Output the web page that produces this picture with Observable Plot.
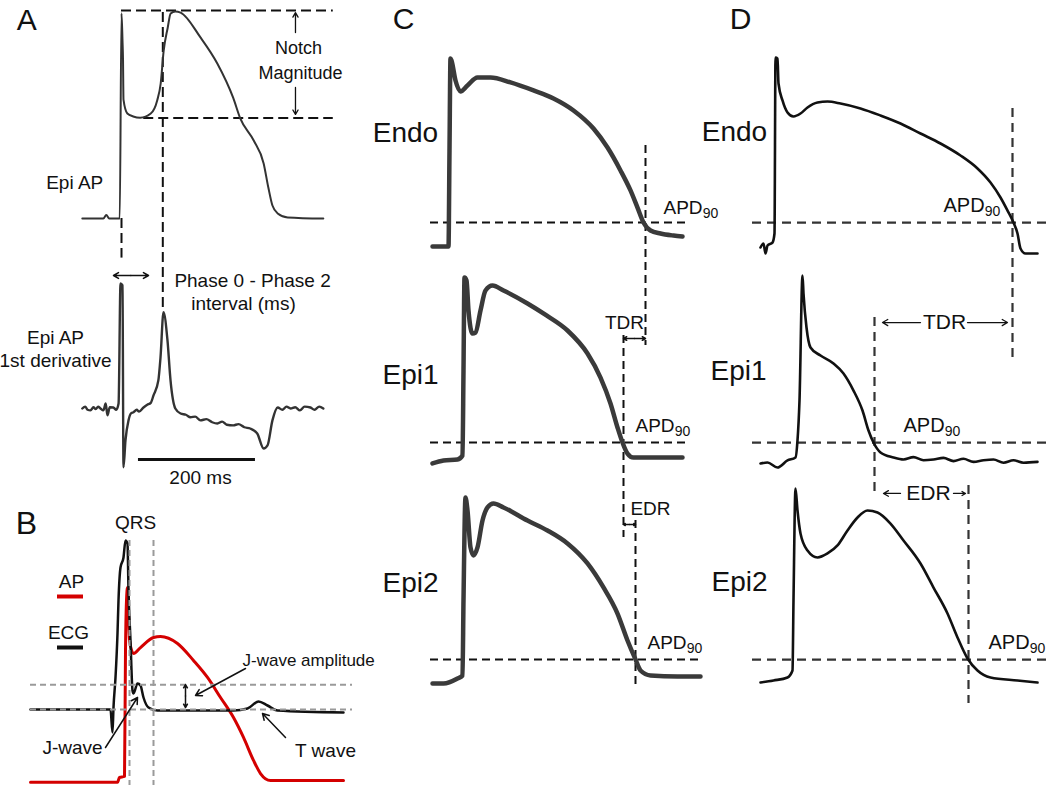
<!DOCTYPE html>
<html>
<head>
<meta charset="utf-8">
<script src="https://cdn.jsdelivr.net/npm/d3@7"></script>
<script src="https://cdn.jsdelivr.net/npm/@observablehq/plot@0.6"></script>
<style>
  html, body { margin: 0; padding: 0; background: #fff; }
  #fig { position: relative; width: 1050px; height: 785px; background: #fff; overflow: hidden; }
</style>
</head>
<body>
<div id="fig"></div>
<script>
// ---------------- DATA (time in ms, potential in mV, dV/dt in V/s, ECG in mV) ----------------
// Panel A: epicardial action potential and its first derivative
const epiAP_A = [[-67,-85],[-31,-85],[-26,-83],[-21,-85],[-3,-85],[0,29],[1.7,14],[2.6,3],[3.4,-19],[10,-26.7],[20,-28.3],[32,-29],[50,-26.7],[61,-19.4],[67,-10],[72,8],[79,21],[84,28.9],[92,30],[101,29.4],[135,15.6],[164,1],[191,-18],[203,-29.4],[226,-41.7],[243,-54.4],[251,-67.8],[258,-77.8],[267,-82.2],[284,-84.4],[345,-85]];
const dVdt_A = [[-67,0],[-62,3],[-58,-2],[-53,-3],[-48,2],[-44,-1],[-40,3],[-36,0],[-31,-3],[-27,8],[-24,-11],[-20,2],[-14,1.6],[-9,-2],[-5,8],[-1.7,200],[1.7,197],[3.4,-94],[6.8,-51],[12,-19],[16,-8],[20.5,-6],[26,-2],[30,-5],[37.6,1.6],[44,6],[50,9],[54.7,21],[63,45],[66.7,82],[71.8,154],[78.6,109],[83.8,45],[92,0],[101,-8],[110,-10],[118,-14],[126,-13],[135,-19],[145,-17],[155,-22],[164,-24],[172,-21],[180,-26],[191,-27],[200,-25],[210,-30],[220,-32],[232,-40],[243,-64],[249.6,-59],[258,-19],[267,1.6],[275,-2],[282,3],[289,0],[297,2],[305,-3],[313,3],[323,1.6],[330,-2],[338,3],[345,0]];
// Panel B: AP (red) and ECG (black)
const ap_B = [[-188,-85.5],[-14,-85.5],[-10,-82.6],[0,-82],[2,-7.9],[4,21.5],[6,29.1],[10,-2],[18,-9.7],[32,-6.2],[58,-0.3],[72,0.3],[106,-3.8],[138,-13.8],[166,-23.8],[192,-35.6],[218,-47.4],[238,-59.1],[258,-72.6],[272,-80.3],[292,-84.4],[438,-84.4]];
const ecg_B = [[-188,0],[-28,0],[-24,-0.23],[-22,0.02],[-18,0.32],[-14,0.76],[-12,1.09],[-8,1.42],[-2,1.52],[2,1.69],[6,1.66],[8,1.19],[12,0.69],[16,0.19],[18,0.16],[26,0.26],[32,0.24],[38,0.12],[48,0.02],[66,-0.01],[152,-0.01],[218,-0.01],[246,0.01],[268,0.08],[286,0.04],[306,-0.01],[438,-0.03]];
// Panel C: Endo / Epi1 / Epi2
const endo_C = [[-34,-85.6],[-2,-85.6],[0,-25.6],[2,31.9],[4,30.6],[12,18.1],[22,11.3],[36,15],[56,20],[82,20],[122,16.9],[168,11.9],[208,6.9],[248,-0.6],[288,-11.9],[316,-23.8],[342,-38.1],[362,-50.6],[376,-61.3],[388,-70.6],[402,-75.6],[422,-77.5],[448,-78.8],[466,-79.4]];
const epi1_C = [[-34,-85.6],[-12,-83.8],[16,-83.1],[26,-80.6],[28,-27.5],[30,30.6],[34,28.8],[38,10],[46,-4.4],[52,-3.8],[62,10],[72,22.5],[86,25.6],[108,22.5],[156,14.4],[194,6.9],[236,-2.5],[276,-16.9],[302,-31.9],[322,-48.1],[336,-63.1],[346,-72.5],[356,-79.4],[368,-81.9],[422,-81.9],[466,-81.9]];
const epi2_C = [[-34,-85.6],[-12,-85.6],[16,-82.5],[26,-80.6],[28,-33.75],[32,30.6],[36,22.5],[42,-0.6],[48,-5.6],[56,-0.6],[66,16.25],[76,24.4],[88,26.9],[108,24.4],[156,16.25],[196,10],[236,1.9],[276,-10.6],[308,-25.6],[336,-41.9],[356,-58.75],[372,-70.6],[382,-77.5],[402,-80.6],[456,-81.25],[502,-81.25]];
// Panel D: Endo / Epi1 / Epi2
const endo_D = [[-30,-85],[-24,-82.5],[-20,-88.75],[-16,-83.75],[-6,-81.9],[-2,-76.25],[0,33.75],[4,33.1],[6,17.5],[14,6.9],[24,-0.6],[36,-3.1],[50,-1.25],[64,2.5],[84,5.6],[104,6.25],[130,5],[170,1.9],[210,-2.5],[250,-7.5],[290,-13.75],[330,-20],[370,-27.5],[404,-35.6],[430,-44.4],[450,-53.75],[464,-61.9],[476,-69.4],[484,-76.25],[490,-85.6],[500,-88.75],[524,-88.75]];
const epi1_D = [[-30,-85],[-16,-84.4],[4,-87.5],[24,-83.1],[40,-81.25],[44,-70.6],[48,-45.6],[54,32.5],[56,21.25],[62,0],[70,-12.5],[90,-17.5],[116,-22.5],[136,-28.75],[156,-39.4],[174,-51.9],[186,-64.4],[196,-71.9],[210,-78.1],[236,-81.25],[256,-82.5],[276,-81],[296,-83],[316,-82.5],[336,-81.5],[356,-83.5],[376,-82],[396,-84],[416,-83],[436,-82.5],[456,-84.5],[476,-83],[496,-84.5],[524,-84]];
const epi2_D = [[-30,-86.25],[-4,-85],[24,-83.1],[34,-78.75],[36,-35],[40,35],[44,21.25],[50,6.9],[64,-3.75],[84,-8.1],[104,-5.6],[124,-0.6],[144,8.75],[164,16.9],[184,21.25],[204,20],[230,13.1],[256,2.5],[290,-11.9],[316,-26.9],[344,-43.1],[364,-58.1],[384,-71.25],[404,-78.75],[430,-83.1],[484,-85],[524,-86.25]];

// ---------------- LAYOUT / HELPERS ----------------
const W = 1050, H = 785;
const FONT = "'Liberation Sans', Arial, Helvetica, sans-serif";
const fig = document.getElementById("fig");

function layer(map, marks) {
  const {x0, kx, y0, ky} = map;
  const svg = Plot.plot({
    width: W, height: H, margin: 0,
    x: {type: "linear", domain: [-x0 / kx, (W - x0) / kx], axis: null},
    y: {type: "linear", domain: [(y0 - H) / ky, y0 / ky], axis: null},
    style: {position: "absolute", left: "0px", top: "0px", overflow: "visible", background: "transparent", fontFamily: FONT},
    marks
  });
  fig.appendChild(svg);
}
const trace = (data, o) => Plot.line(data, {x: d => d[0], y: d => d[1], curve: "monotone-x", strokeLinejoin: "round", strokeLinecap: "round", ...o});
const hrule = (v, t1, t2, o) => Plot.ruleY([v], {x1: () => t1, x2: () => t2, ...o});
const vrule = (t, v1, v2, o) => Plot.ruleX([t], {y1: () => v1, y2: () => v2, ...o});
const label = (s, t, v, o) => Plot.text([s], {x: () => t, y: () => v, text: d => d, fontFamily: FONT, fill: "#111", ...o});
const arrow = (t1, v1, t2, v2, o) => Plot.arrow([0], {x1: () => t1, y1: () => v1, x2: () => t2, y2: () => v2, stroke: "#111", strokeWidth: 1.5, headLength: 7, ...o});
const apd = (t, v, fs) => [
  label("APD", t, v, {fontSize: fs, textAnchor: "start"}),
  label("90", t, v, {fontSize: Math.round(fs * 0.72), textAnchor: "start", dx: fs * 2.06, dy: fs * 0.3})
];
const dashA = {stroke: "#111", strokeWidth: 2, strokeDasharray: "10,5"};
const dashB = {stroke: "#9a9a9a", strokeWidth: 2, strokeDasharray: "6,4"};
const dashC = {stroke: "#111", strokeWidth: 2, strokeDasharray: "8,5"};
const dashD = {stroke: "#333", strokeWidth: 2.2, strokeDasharray: "9,6"};

// ---------------- PANEL A ----------------
layer({x0: 121, kx: 0.585, y0: 65, ky: 1.8}, [
  hrule(30.5, 0, 362, dashA),
  hrule(-29.1, 38, 362, dashA),
  vrule(0, -85, -107, dashA),
  vrule(70.6, 29.4, -136, dashA),
  trace(epiAP_A, {stroke: "#333", strokeWidth: 2}),
  label("A", -162, 25.3, {fontSize: 30}),
  label("Epi AP", -80, -65, {fontSize: 19}),
  label("Notch", 302.6, 9.4, {fontSize: 18}),
  label("Magnitude", 306, -4.4, {fontSize: 18}),
  arrow(297.4, 18.3, 297.4, 29.4, {headLength: 6, strokeWidth: 1.3}),
  arrow(297.4, -12.2, 297.4, -27.2, {headLength: 6, strokeWidth: 1.3})
]);
layer({x0: 121, kx: 0.585, y0: 408, ky: 0.625}, [
  trace(dVdt_A, {stroke: "#333", strokeWidth: 2.4}),
  arrow(16, 212.8, -13.7, 212.8, {headLength: 6}),
  arrow(16, 212.8, 46.2, 212.8, {headLength: 6}),
  label("Epi AP", -112.8, 113.6, {fontSize: 19}),
  label("1st derivative", -112.8, 76.8, {fontSize: 19}),
  label("Phase 0 - Phase 2", 224, 204.8, {fontSize: 19}),
  label("interval (ms)", 208.5, 168, {fontSize: 19}),
  hrule(-81.6, 29, 229, {stroke: "#111", strokeWidth: 3}),
  label("200 ms", 135, -110.4, {fontSize: 19})
]);

// ---------------- PANEL B ----------------
layer({x0: 124, kx: 0.5, y0: 636.5, ky: 1.7}, [
  trace(ap_B, {stroke: "#d40000", strokeWidth: 3})
]);
layer({x0: 124, kx: 0.5, y0: 709, ky: 100}, [
  trace(ecg_B, {stroke: "#111", strokeWidth: 2.5}),
  vrule(10, 1.69, -0.76, dashB),
  vrule(58, 1.69, -0.76, dashB),
  hrule(0.247, -188, 456, dashB),
  hrule(0, -188, 456, dashB),
  label("B", -196, 1.86, {fontSize: 32}),
  label("QRS", 22, 1.87, {fontSize: 19}),
  label("AP", -106, 1.28, {fontSize: 19}),
  hrule(1.13, -134, -82, {stroke: "#d40000", strokeWidth: 4}),
  label("ECG", -112, 0.77, {fontSize: 19}),
  hrule(0.62, -134, -82, {stroke: "#111", strokeWidth: 4}),
  label("J-wave amplitude", 236, 0.49, {fontSize: 17, textAnchor: "start"}),
  arrow(242, 0.41, 142, 0.14),
  label("J-wave", -104, -0.38, {fontSize: 19}),
  arrow(-38, -0.38, 26, 0.12),
  label("T wave", 402, -0.41, {fontSize: 19}),
  arrow(322, -0.28, 276, -0.04),
  arrow(122, 0.135, 122, 0.25, {headLength: 5}),
  arrow(122, 0.135, 122, 0.02, {headLength: 5})
]);

// ---------------- PANEL C ----------------
const strokeC = {stroke: "#3a3a3a", strokeWidth: 4.5};
layer({x0: 449, kx: 0.5, y0: 109, ky: 1.6}, [
  hrule(-70.6, -38, 482, dashC),
  vrule(392, -22.5, -147.5, dashC),
  trace(endo_C, strokeC),
  label("C", -92, 56.6, {fontSize: 30}),
  label("Endo", -88, -14.4, {fontSize: 28}),
  ...apd(428, -61.25, 19)
]);
layer({x0: 449, kx: 0.5, y0: 326, ky: 1.6}, [
  hrule(-72.5, -38, 482, dashC),
  vrule(348, -5.6, -131.9, dashC),
  trace(epi1_C, strokeC),
  label("Epi1", -78, -30.6, {fontSize: 28}),
  label("TDR", 350, 2.5, {fontSize: 19}),
  arrow(370, -7.5, 348, -7.5, {headLength: 5}),
  arrow(370, -7.5, 392, -7.5, {headLength: 5}),
  ...apd(372, -61.9, 19)
]);
layer({x0: 449, kx: 0.5, y0: 546, ky: 1.6}, [
  hrule(-70.6, -38, 502, dashC),
  vrule(372, 16.25, -86.9, dashC),
  trace(epi2_C, strokeC),
  label("Epi2", -78, -23.1, {fontSize: 28}),
  label("EDR", 402, 23.75, {fontSize: 19}),
  arrow(360, 13.75, 348, 13.75, {headLength: 5}),
  arrow(360, 13.75, 372, 13.75, {headLength: 5}),
  ...apd(396, -60, 19)
]);

// ---------------- PANEL D ----------------
const strokeD = {stroke: "#111", strokeWidth: 2.6};
layer({x0: 775, kx: 0.5, y0: 111, ky: 1.6}, [
  hrule(-69.4, -46, 550, dashD),
  vrule(474, 1.9, -157.5, dashD),
  trace(endo_D, strokeD),
  label("D", -70, 57.8, {fontSize: 30}),
  label("Endo", -82, -13.1, {fontSize: 28}),
  ...apd(336, -58.75, 20)
]);
layer({x0: 775, kx: 0.5, y0: 327, ky: 1.6}, [
  hrule(-71.9, -46, 550, dashD),
  vrule(198, 6.25, -106.25, dashD),
  trace(epi1_D, strokeD),
  label("Epi1", -74, -26.9, {fontSize: 28}),
  label("TDR", 338, 3.1, {fontSize: 21}),
  arrow(290, 3.1, 214, 3.1, {strokeWidth: 1.3}),
  arrow(384, 3.1, 464, 3.1, {strokeWidth: 1.3}),
  ...apd(256, -61.25, 20)
]);
layer({x0: 775, kx: 0.5, y0: 544, ky: 1.6}, [
  hrule(-71.9, -46, 550, dashD),
  vrule(386, 36.9, -99.4, dashD),
  trace(epi2_D, strokeD),
  label("Epi2", -72, -23.75, {fontSize: 28}),
  label("EDR", 306, 31.9, {fontSize: 21}),
  arrow(250, 31.9, 216, 31.9, {strokeWidth: 1.3}),
  arrow(356, 31.9, 380, 31.9, {strokeWidth: 1.3}),
  ...apd(426, -61.25, 20)
]);
</script>
</body>
</html>
